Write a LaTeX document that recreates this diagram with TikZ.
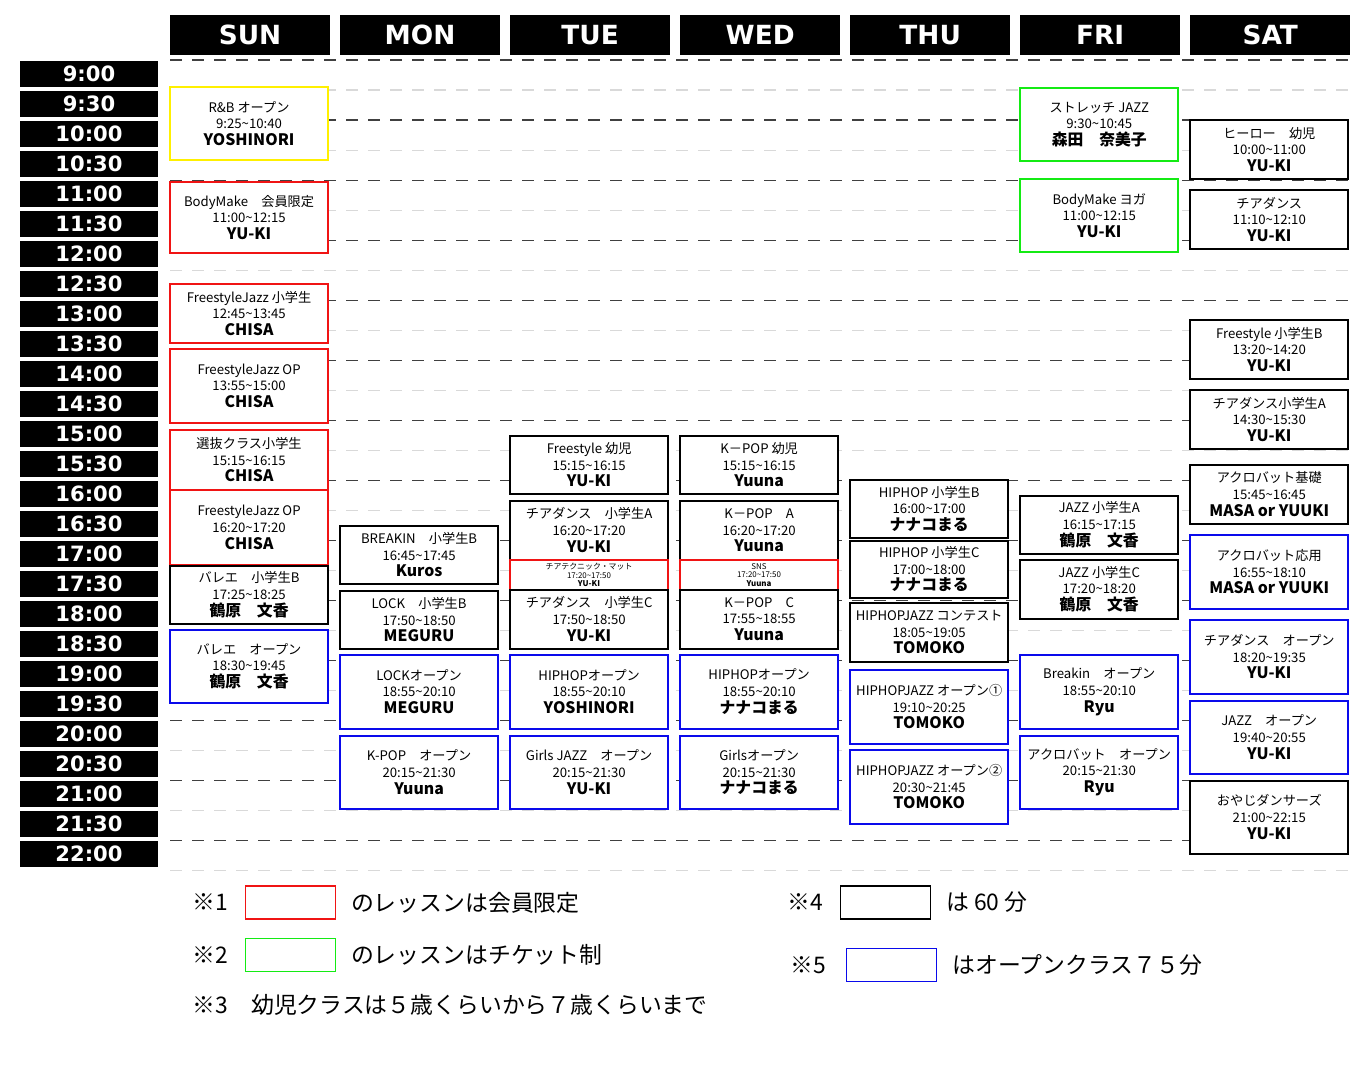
\documentclass[tikz,border=0pt]{standalone}
\usepackage{fontspec}
\setmainfont{Noto Sans CJK JP}
\newfontfamily\headfont{DejaVu Sans}
\usetikzlibrary{positioning}
\definecolor{ttred}{RGB}{240,20,20}
\definecolor{ttgreen}{RGB}{20,235,20}
\definecolor{ttblue}{RGB}{10,10,235}
\definecolor{ttyellow}{RGB}{255,240,0}
\tikzset{
  lesson/.style={draw, fill=white, line width=1.1pt, minimum width=3.16cm, inner sep=0pt, align=center,
    font=\fontsize{7.5}{9.5}\selectfont},
  dayhead/.style={fill=black, text=white, minimum width=3.2cm, minimum height=0.8cm, inner sep=0pt,
    font=\headfont\bfseries\fontsize{15}{15}\selectfont},
  timehead/.style={fill=black, text=white, minimum width=2.76cm, minimum height=0.52cm, inner sep=0pt,
    font=\headfont\bfseries\fontsize{12}{12}\selectfont},
  legbox/.style={draw, line width=0.6pt, minimum width=1.8cm, minimum height=0.66cm, inner sep=0pt},
  legtext/.style={anchor=west, inner sep=0pt, font=\fontsize{13}{13}\selectfont}
}
% name, column, top, bottom (px), colour, title, time, teacher
\newcommand{\lesson}[8]{%
  \node[lesson, draw=#5, minimum height={(#4-#3)*0.02cm}] (#1)
    at ({(170+170*#2+79)*0.02}, {-(#3+#4)*0.01}) {#6\\#7\\{\fontsize{9}{11}\selectfont\bfseries #8}};}
\newcommand{\tl}{\textasciitilde}
\begin{document}
\begin{tikzpicture}
\useasboundingbox (0,0) rectangle (27.2,-21.6);
% grid lines
\foreach \k in {0,...,13}{
  \draw[black!75, line width=0.6pt, dash pattern=on 0.24cm off 0.2cm] (3.4,{-(60+60*\k)*0.02}) -- (27,{-(60+60*\k)*0.02});
  \draw[black!15, line width=0.6pt, dash pattern=on 0.24cm off 0.2cm] (3.4,{-(90+60*\k)*0.02}) -- (27,{-(90+60*\k)*0.02});
}
% days
\foreach \d [count=\i from 0] in {SUN,MON,TUE,WED,THU,FRI,SAT}
  \node[dayhead] (day\i) at ({(170+170*\i+80)*0.02},-0.7) {\d};
% times
\foreach \t [count=\i from 0] in {9:00,9:30,10:00,10:30,11:00,11:30,12:00,12:30,13:00,13:30,14:00,14:30,15:00,15:30,16:00,16:30,17:00,17:30,18:00,18:30,19:00,19:30,20:00,20:30,21:00,21:30,22:00}
  \node[timehead] (time\i) at (1.78,{-(74+30*\i)*0.02}) {\t};
% sunday
\lesson{sunA}{0}{87}{160}{ttyellow}{R\&B オープン}{9:25\tl10:40}{YOSHINORI}
\lesson{sunB}{0}{182}{253}{ttred}{BodyMake　会員限定}{11:00\tl12:15}{YU-KI}
\lesson{sunC}{0}{284}{343}{ttred}{FreestyleJazz 小学生}{12:45\tl13:45}{CHISA}
\lesson{sunD}{0}{349}{423}{ttred}{FreestyleJazz OP}{13:55\tl15:00}{CHISA}
\lesson{sunE}{0}{430}{490}{ttred}{選抜クラス小学生}{15:15\tl16:15}{CHISA}
\lesson{sunF}{0}{490}{565}{ttred}{FreestyleJazz OP}{16:20\tl17:20}{CHISA}
\lesson{sunG}{0}{566}{624}{black}{バレエ　小学生B}{17:25\tl18:25}{鶴原　文香}
\lesson{sunH}{0}{630}{703}{ttblue}{バレエ　オープン}{18:30\tl19:45}{鶴原　文香}
% monday
\lesson{monA}{1}{526}{584}{black}{BREAKIN　小学生B}{16:45\tl17:45}{Kuros}
\lesson{monB}{1}{591}{649}{black}{LOCK　小学生B}{17:50\tl18:50}{MEGURU}
\lesson{monC}{1}{655}{729}{ttblue}{LOCKオープン}{18:55\tl20:10}{MEGURU}
\lesson{monD}{1}{736}{809}{ttblue}{K-POP　オープン}{20:15\tl21:30}{Yuuna}
% tuesday
\lesson{tueA}{2}{436}{494}{black}{Freestyle 幼児}{15:15\tl16:15}{YU-KI}
\lesson{tueB}{2}{501}{560}{black}{チアダンス　小学生A}{16:20\tl17:20}{YU-KI}
\node[lesson, draw=ttred, minimum height=0.6cm, font=\fontsize{4.5}{5}\selectfont] (tueC)
  at (11.78,-11.5) {チアテクニック・マット\\17:20\tl17:50\\\bfseries YU-KI};
\lesson{tueD}{2}{590}{649}{black}{チアダンス　小学生C}{17:50\tl18:50}{YU-KI}
\lesson{tueE}{2}{655}{729}{ttblue}{HIPHOPオープン}{18:55\tl20:10}{YOSHINORI}
\lesson{tueF}{2}{736}{809}{ttblue}{Girls JAZZ　オープン}{20:15\tl21:30}{YU-KI}
% wednesday
\lesson{wedA}{3}{436}{494}{black}{K－POP 幼児}{15:15\tl16:15}{Yuuna}
\lesson{wedB}{3}{501}{560}{black}{K－POP　A}{16:20\tl17:20}{Yuuna}
\node[lesson, draw=ttred, minimum height=0.6cm, font=\fontsize{4.5}{5}\selectfont] (wedC)
  at (15.18,-11.5) {SNS\\17:20\tl17:50\\\bfseries Yuuna};
\lesson{wedD}{3}{590}{649}{black}{K－POP　C}{17:55\tl18:55}{Yuuna}
\lesson{wedE}{3}{655}{729}{ttblue}{HIPHOPオープン}{18:55\tl20:10}{ナナコまる}
\lesson{wedF}{3}{736}{809}{ttblue}{Girlsオープン}{20:15\tl21:30}{ナナコまる}
% thursday
\lesson{thuA}{4}{480}{538}{black}{HIPHOP 小学生B}{16:00\tl17:00}{ナナコまる}
\lesson{thuB}{4}{541}{598}{black}{HIPHOP 小学生C}{17:00\tl18:00}{ナナコまる}
\lesson{thuC}{4}{603}{662}{black}{HIPHOPJAZZ コンテスト}{18:05\tl19:05}{TOMOKO}
\lesson{thuD}{4}{670}{744}{ttblue}{HIPHOPJAZZ オープン①}{19:10\tl20:25}{TOMOKO}
\lesson{thuE}{4}{750}{824}{ttblue}{HIPHOPJAZZ オープン②}{20:30\tl21:45}{TOMOKO}
% friday
\lesson{friA}{5}{88}{161}{ttgreen}{ストレッチ JAZZ}{9:30\tl10:45}{森田　奈美子}
\lesson{friB}{5}{179}{252}{ttgreen}{BodyMake ヨガ}{11:00\tl12:15}{YU-KI}
\lesson{friC}{5}{496}{554}{black}{JAZZ 小学生A}{16:15\tl17:15}{鶴原　文香}
\lesson{friD}{5}{560}{619}{black}{JAZZ 小学生C}{17:20\tl18:20}{鶴原　文香}
\lesson{friE}{5}{655}{729}{ttblue}{Breakin　オープン}{18:55\tl20:10}{Ryu}
\lesson{friF}{5}{736}{809}{ttblue}{アクロバット　オープン}{20:15\tl21:30}{Ryu}
% saturday
\lesson{satA}{6}{120}{179}{black}{ヒーロー　幼児}{10:00\tl11:00}{YU-KI}
\lesson{satB}{6}{190}{249}{black}{チアダンス}{11:10\tl12:10}{YU-KI}
\lesson{satC}{6}{320}{379}{black}{Freestyle 小学生B}{13:20\tl14:20}{YU-KI}
\lesson{satD}{6}{390}{449}{black}{チアダンス小学生A}{14:30\tl15:30}{YU-KI}
\lesson{satE}{6}{465}{524}{black}{アクロバット基礎}{15:45\tl16:45}{MASA or YUUKI}
\lesson{satF}{6}{535}{609}{ttblue}{アクロバット応用}{16:55\tl18:10}{MASA or YUUKI}
\lesson{satG}{6}{620}{694}{ttblue}{チアダンス　オープン}{18:20\tl19:35}{YU-KI}
\lesson{satH}{6}{701}{774}{ttblue}{JAZZ　オープン}{19:40\tl20:55}{YU-KI}
\lesson{satI}{6}{781}{854}{black}{おやじダンサーズ}{21:00\tl22:15}{YU-KI}
% notes
\node[legtext] (noteA) at (3.85,-18.05) {※1};
\node[legbox, draw=ttred, right=0.32cm of noteA] (boxA) {};
\node[legtext, right=0.3cm of boxA] {のレッスンは会員限定};
\node[legtext] (noteB) at (3.85,-19.1) {※2};
\node[legbox, draw=ttgreen, right=0.32cm of noteB] (boxB) {};
\node[legtext, right=0.3cm of boxB] {のレッスンはチケット制};
\node[legtext] (noteC) at (3.85,-20.1) {※3　幼児クラスは５歳くらいから７歳くらいまで};
\node[legtext] (noteD) at (15.75,-18.05) {※4};
\node[legbox, draw=black, right=0.32cm of noteD] (boxD) {};
\node[legtext, right=0.3cm of boxD] {は 60 分};
\node[legtext] (noteE) at (15.8,-19.3) {※5};
\node[legbox, draw=ttblue, right=0.4cm of noteE] (boxE) {};
\node[legtext, right=0.3cm of boxE] {はオープンクラス７５分};
\end{tikzpicture}
\end{document}
